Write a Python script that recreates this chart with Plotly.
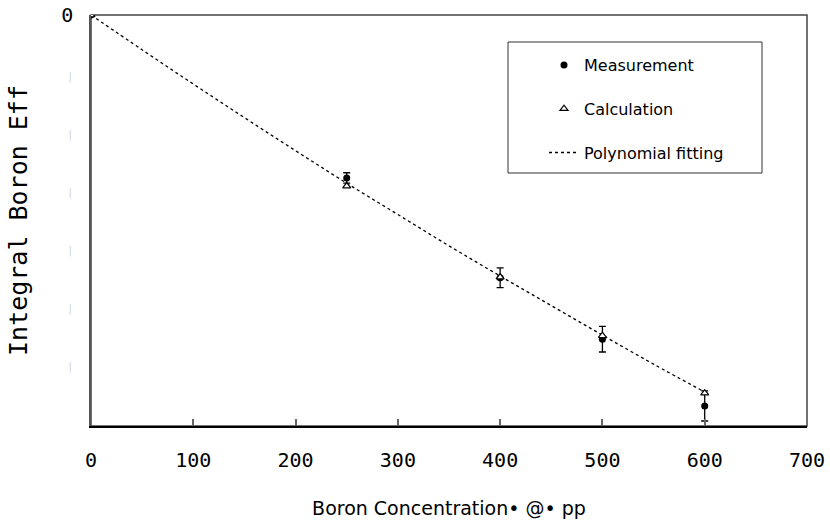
import plotly.graph_objects as go

# Data (y in arbitrary units; ticks every 1 unit, labels hidden except 0)
conc = [0, 250, 400, 500, 600]
meas = [0, -2.81, -4.53, -5.59, -6.74]
meas_err = [0, 0.09, 0.17, 0.22, 0.26]
calc = [0, -2.95, -4.52, -5.53, -6.52]
fit_x = [0, 50, 100, 150, 200, 250, 300, 350, 400, 450, 500, 550, 600]
fit_y = [0, -0.60, -1.19, -1.77, -2.34, -2.90, -3.44, -3.98, -4.50, -5.01, -5.52, -6.02, -6.50]

x_ticks = [0, 100, 200, 300, 400, 500, 600, 700]
y_ticks = [0, -1, -2, -3, -4, -5, -6]
y_ticktext = ["0"] + ["<span style='color:#d0d0d0;font-size:10px'>|</span>"] * 6

fig = go.Figure()
fig.add_trace(go.Scatter(
    x=fit_x, y=fit_y, mode="lines", name="Polynomial fitting",
    line=dict(color="black", width=1.3, dash="dot", shape="spline"),
    legendgroup="c", legendrank=3))
fig.add_trace(go.Scatter(
    x=conc, y=meas, mode="markers", name="Measurement",
    marker=dict(symbol="circle", size=7, color="black"),
    error_y=dict(type="data", array=meas_err, visible=True, color="black",
                 thickness=1.3, width=3.5),
    legendgroup="a", legendrank=1))
fig.add_trace(go.Scatter(
    x=conc, y=calc, mode="markers", name="Calculation",
    marker=dict(symbol="triangle-up", size=7, color="white",
                line=dict(color="black", width=1.2)),
    legendgroup="b", legendrank=2))

# plot border (top / right)
fig.add_shape(type="rect", xref="paper", yref="paper", x0=0, y0=0, x1=1, y1=1,
              line=dict(color="#444", width=1.5), fillcolor="rgba(0,0,0,0)", layer="below")
# legend box
fig.add_shape(type="rect", xref="paper", yref="paper",
              x0=(508 - 91) / 716, x1=(762 - 91) / 716,
              y0=(426 - 173) / 411, y1=(426 - 42) / 411,
              line=dict(color="#333", width=1), fillcolor="white", layer="below")

fig.update_layout(
    width=830, height=523,
    margin=dict(l=91, r=23, t=15, b=97, autoexpand=False),
    paper_bgcolor="white", plot_bgcolor="white",
    font=dict(family="DejaVu Sans Mono", color="black", size=20),
    showlegend=True,
    legend=dict(x=(544 - 91) / 716, y=(426 - 48) / 411, xanchor="left", yanchor="top",
                bgcolor="rgba(0,0,0,0)", borderwidth=0, tracegroupgap=20,
                font=dict(family="DejaVu Sans", size=16, color="black")),
    xaxis=dict(range=[0, 700], tickvals=x_ticks, ticks="inside", ticklen=7,
               tickwidth=2, tickcolor="#666", showgrid=False, zeroline=False,
               showline=True, linecolor="black", linewidth=2, automargin=False,
               ticklabelstandoff=15,
               tickfont=dict(family="DejaVu Sans Mono", size=20),
               title=dict(text="Boron Concentration• @• pp", standoff=31,
                          font=dict(family="DejaVu Sans", size=19))),
    yaxis=dict(range=[-411 / 58, 0], tickvals=y_ticks, ticktext=y_ticktext,
               ticks="", showgrid=False, zeroline=False, automargin=False,
               showline=True, linecolor="#555", linewidth=1.5,
               ticklabelstandoff=12,
               tickfont=dict(family="DejaVu Sans Mono", size=20),
               title=dict(text="Integral Boron Eff", standoff=26,
                          font=dict(family="DejaVu Sans Mono", size=25))),
)

fig.write_html("out.html")
